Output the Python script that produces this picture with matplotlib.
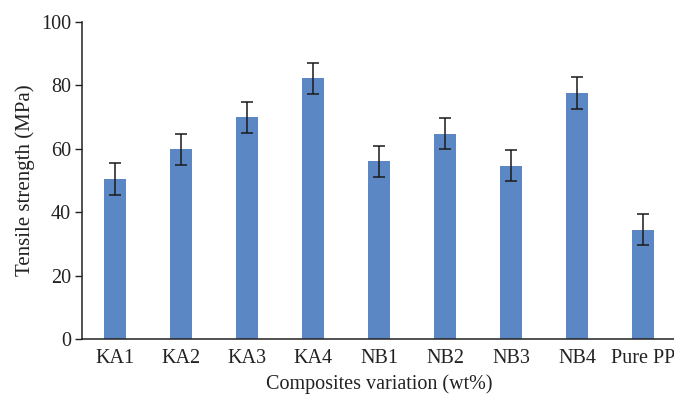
import matplotlib
matplotlib.use('Agg')
import matplotlib.pyplot as plt
import numpy as np

# data
categories = ["KA1", "KA2", "KA3", "KA4", "NB1", "NB2", "NB3", "NB4", "Pure PP"]
strength = [50.5, 59.9, 70.0, 82.3, 56.1, 64.7, 54.6, 77.6, 34.4]
errors = [5.0, 4.9, 4.9, 4.9, 4.9, 4.9, 4.9, 4.9, 4.9]
y_ticks = [0, 20, 40, 60, 80, 100]

plt.rcParams['font.family'] = ['Liberation Serif', 'DejaVu Serif']

fig = plt.figure(figsize=(6.74, 3.96), dpi=100)
ax = fig.add_axes([82 / 674, 1 - 339 / 396, 594 / 674, 317 / 396])

x = np.arange(len(categories))
ax.bar(x, strength, width=0.32, color='#5b87c4', zorder=2)
ax.errorbar(x, strength, yerr=errors, fmt='none', ecolor='#1a1a1a',
            elinewidth=1.1, capsize=4, capthick=1.1, zorder=3)

ax.set_xlim(-0.5, len(categories) - 0.5)
ax.set_ylim(0, 100)
ax.set_yticks(y_ticks)
ax.set_xticks(x)
ax.set_xticklabels(categories)
ax.tick_params(axis='x', length=0, labelsize=14.5, pad=7, colors='#222222')
ax.tick_params(axis='y', length=5, width=1, labelsize=14.5, pad=3, colors='#222222')

for side in ('top', 'right'):
    ax.spines[side].set_visible(False)
for side in ('left', 'bottom'):
    ax.spines[side].set_color('#222222')
    ax.spines[side].set_linewidth(1.1)

ax.set_ylabel('Tensile strength (MPa)', fontsize=15, color='#222222', labelpad=4)
ax.set_xlabel('Composites variation (wt%)', fontsize=14.5, color='#222222', labelpad=5)

fig.savefig('out.png', dpi=100)
